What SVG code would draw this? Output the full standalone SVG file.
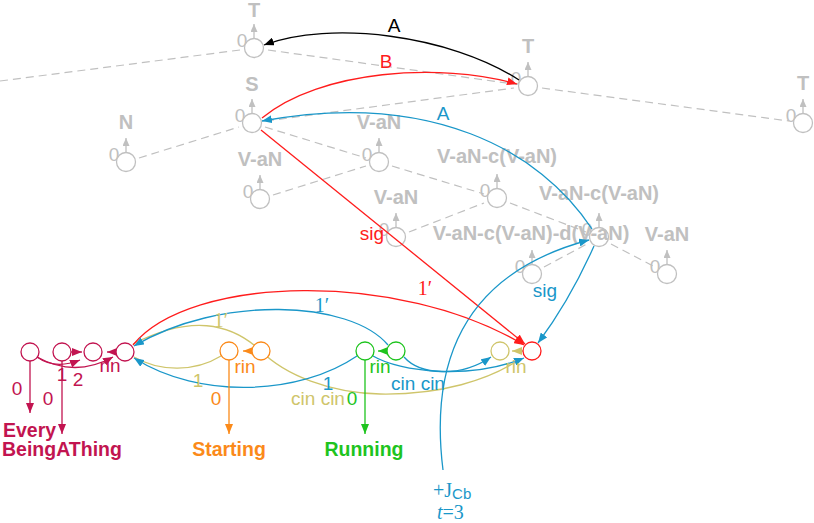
<svg xmlns="http://www.w3.org/2000/svg" width="814" height="523" viewBox="0 0 814 523">
<style>
.gl{font-family:"Liberation Sans",Arial,sans-serif;font-size:20px;font-weight:bold;fill:#c0c0c0;text-anchor:middle}
.g0{font-family:"Liberation Sans",Arial,sans-serif;font-size:19px;fill:#c0c0c0;text-anchor:middle}
.gc{fill:#fff;stroke:#c0c0c0;stroke-width:1.3}
.ga{stroke:#c0c0c0;stroke-width:1.3;fill:none}
.dash{stroke:#c0c0c0;stroke-width:1.2;stroke-dasharray:8,5;fill:none}
.e{fill:none;stroke-width:1.3}
.s{font-family:"Liberation Sans",Arial,sans-serif;font-size:19px;text-anchor:middle}
.b{font-family:"Liberation Sans",Arial,sans-serif;font-size:19.5px;font-weight:bold}
.r{font-family:"Liberation Serif","Times New Roman",serif;font-size:20px;text-anchor:middle}
.n{fill:#fff;stroke-width:1.3}
</style>
<defs>
<marker id="mg" viewBox="0 0 8 7" refX="8" refY="3.5" markerWidth="8" markerHeight="7" markerUnits="userSpaceOnUse" orient="auto"><path d="M0,0 L8,3.5 L0,7 z" fill="#c0c0c0"/></marker>
<marker id="mk" viewBox="0 0 10 8" refX="10" refY="4" markerWidth="10" markerHeight="8" markerUnits="userSpaceOnUse" orient="auto"><path d="M0,0 L10,4 L0,8 z" fill="#000"/></marker>
<marker id="mr" viewBox="0 0 10 8" refX="10" refY="4" markerWidth="10" markerHeight="8" markerUnits="userSpaceOnUse" orient="auto"><path d="M0,0 L10,4 L0,8 z" fill="#ff1c1c"/></marker>
<marker id="mb" viewBox="0 0 10 8" refX="10" refY="4" markerWidth="10" markerHeight="8" markerUnits="userSpaceOnUse" orient="auto"><path d="M0,0 L10,4 L0,8 z" fill="#1a97c9"/></marker>
<marker id="mc" viewBox="0 0 10 8" refX="10" refY="4" markerWidth="10" markerHeight="8" markerUnits="userSpaceOnUse" orient="auto"><path d="M0,0 L10,4 L0,8 z" fill="#c21450"/></marker>
<marker id="mo" viewBox="0 0 10 8" refX="10" refY="4" markerWidth="10" markerHeight="8" markerUnits="userSpaceOnUse" orient="auto"><path d="M0,0 L10,4 L0,8 z" fill="#fb8a1a"/></marker>
<marker id="mgr" viewBox="0 0 10 8" refX="10" refY="4" markerWidth="10" markerHeight="8" markerUnits="userSpaceOnUse" orient="auto"><path d="M0,0 L10,4 L0,8 z" fill="#1ec41e"/></marker>
<marker id="my" viewBox="0 0 10 8" refX="10" refY="4" markerWidth="10" markerHeight="8" markerUnits="userSpaceOnUse" orient="auto"><path d="M0,0 L10,4 L0,8 z" fill="#cfc56b"/></marker>
</defs>
<rect width="814" height="523" fill="#fff"/>

<!-- gray tree nodes -->
<g id="T1"><text class="g0" x="242" y="47">0</text><line class="ga" x1="254" y1="38" x2="254" y2="24" marker-end="url(#mg)"/><circle class="gc" cx="254" cy="48" r="9.5"/><text class="gl" x="254" y="17">T</text></g>
<g id="T2"><text class="g0" x="516" y="85">0</text><line class="ga" x1="528" y1="76" x2="528" y2="62" marker-end="url(#mg)"/><circle class="gc" cx="528" cy="86" r="9.5"/><text class="gl" x="528" y="53">T</text></g>
<g id="T3"><text class="g0" x="791" y="122">0</text><line class="ga" x1="803" y1="113" x2="803" y2="99" marker-end="url(#mg)"/><circle class="gc" cx="803" cy="123" r="9.5"/><text class="gl" x="803" y="90">T</text></g>
<g id="S"><text class="g0" x="240" y="122">0</text><line class="ga" x1="252" y1="113" x2="252" y2="99" marker-end="url(#mg)"/><circle class="gc" cx="252" cy="123" r="9.5"/><text class="gl" x="252" y="91">S</text></g>
<g id="N"><text class="g0" x="114" y="161">0</text><line class="ga" x1="126" y1="152" x2="126" y2="138" marker-end="url(#mg)"/><circle class="gc" cx="126" cy="162" r="9.5"/><text class="gl" x="126" y="129">N</text></g>
<g id="VaN1"><text class="g0" x="367" y="161">0</text><line class="ga" x1="379" y1="152" x2="379" y2="138" marker-end="url(#mg)"/><circle class="gc" cx="379" cy="162" r="9.5"/><text class="gl" x="379" y="129">V-aN</text></g>
<g id="VaN2"><text class="g0" x="248" y="198">0</text><line class="ga" x1="260" y1="189" x2="260" y2="175" marker-end="url(#mg)"/><circle class="gc" cx="260" cy="199" r="9.5"/><text class="gl" x="260" y="166">V-aN</text></g>
<g id="VaN3"><text class="g0" x="384" y="236">0</text><line class="ga" x1="396" y1="227" x2="396" y2="213" marker-end="url(#mg)"/><circle class="gc" cx="396" cy="237" r="9.5"/><text class="gl" x="396" y="204">V-aN</text></g>
<g id="VaNc1"><text class="g0" x="485" y="197">0</text><line class="ga" x1="497" y1="188" x2="497" y2="174" marker-end="url(#mg)"/><circle class="gc" cx="497" cy="198" r="9.5"/><text class="gl" x="497" y="163">V-aN-c(V-aN)</text></g>
<g id="VaNc2"><text class="g0" x="587" y="236">0</text><line class="ga" x1="599" y1="227" x2="599" y2="213" marker-end="url(#mg)"/><circle class="gc" cx="599" cy="237" r="9.5"/><text class="gl" x="599" y="200">V-aN-c(V-aN)</text></g>
<g id="VaNcd"><text class="g0" x="520" y="273">0</text><line class="ga" x1="532" y1="264" x2="532" y2="250" marker-end="url(#mg)"/><circle class="gc" cx="532" cy="274" r="9.5"/><text class="gl" x="531" y="240">V-aN-c(V-aN)-d(V-aN)</text></g>
<g id="VaN4"><text class="g0" x="655" y="273">0</text><line class="ga" x1="667" y1="264" x2="667" y2="250" marker-end="url(#mg)"/><circle class="gc" cx="667" cy="274" r="9.5"/><text class="gl" x="667" y="241">V-aN</text></g>

<!-- connectors -->
<g id="connectors">
<line class="dash" x1="0" y1="81" x2="240" y2="50"/>
<line class="dash" x1="268" y1="50" x2="514" y2="84"/>
<line class="dash" x1="266" y1="121" x2="514" y2="88"/>
<line class="dash" x1="542" y1="88" x2="789" y2="121"/>
<line class="dash" x1="139" y1="158" x2="239" y2="127"/>
<line class="dash" x1="265" y1="127" x2="366" y2="158"/>
<line class="dash" x1="273" y1="195" x2="366" y2="166"/>
<line class="dash" x1="392" y1="166" x2="484" y2="194"/>
<line class="dash" x1="409" y1="232" x2="484" y2="203"/>
<line class="dash" x1="510" y1="203" x2="586" y2="232"/>
<line class="dash" x1="544" y1="267" x2="587" y2="244"/>
<line class="dash" x1="611" y1="244" x2="655" y2="267"/>

<path class="e" stroke="#000" d="M519,80 C450,35 330,20 264,45" marker-end="url(#mk)"/>
<path class="e" stroke="#ff1c1c" d="M262,118 C320,70 440,62 517,84" marker-end="url(#mr)"/>
<path class="e" stroke="#1a97c9" d="M592,229 C540,150 430,90 262,121" marker-end="url(#mb)"/>
<path class="e" stroke="#ff1c1c" d="M261,130 L525,344" marker-end="url(#mr)"/>
<path class="e" stroke="#1a97c9" d="M594,246 Q570,300 538,343" marker-end="url(#mb)"/>
<path class="e" stroke="#1a97c9" d="M443,470 Q420,285 589,240" marker-end="url(#mb)"/>

<path class="e" stroke="#cfc56b" d="M134,357 C160,372 195,372 221,356"/>
<path class="e" stroke="#cfc56b" d="M133,344 C190,315 230,322 261,351 C285,375 330,393 380,394 C440,395 490,380 520,359"/>
<path class="e" stroke="#ff1c1c" d="M133,345 C190,275 400,270 524,345" marker-end="url(#mr)"/>
<path class="e" stroke="#1a97c9" d="M388,345 C350,300 220,295 134,346" marker-end="url(#mb)"/>
<path class="e" stroke="#1a97c9" d="M404,357 C420,375 460,378 491,357" marker-end="url(#mb)"/>
<path class="e" stroke="#1a97c9" d="M357,356 C300,395 200,400 134,358" marker-end="url(#mb)"/>
<path class="e" stroke="#1a97c9" d="M373,356 C400,372 470,380 524,358" marker-end="url(#mb)"/>

<path class="e" stroke="#c21450" d="M37,357 Q55,370 80,360" marker-end="url(#mc)"/>
<path class="e" stroke="#c21450" d="M37,357 Q75,378 113,357" marker-end="url(#mc)"/>
<path class="e" stroke="#c21450" d="M71,352 L82,352" marker-end="url(#mc)"/>
<path class="e" stroke="#c21450" d="M116,352 L107,352" marker-end="url(#mc)"/>
<path class="e" stroke="#c21450" d="M30,361 L30,413" marker-end="url(#mc)"/>
<path class="e" stroke="#c21450" d="M62,361 L62,434" marker-end="url(#mc)"/>
<path class="e" stroke="#fb8a1a" d="M252,351 L243,351" marker-end="url(#mo)"/>
<path class="e" stroke="#fb8a1a" d="M229,360 L229,434" marker-end="url(#mo)"/>
<path class="e" stroke="#1ec41e" d="M387,351 L378,351" marker-end="url(#mgr)"/>
<path class="e" stroke="#1ec41e" d="M365,360 L365,434" marker-end="url(#mgr)"/>
<path class="e" stroke="#cfc56b" d="M523,351 L512,351" marker-end="url(#my)"/>
</g>

<!-- bottom nodes -->
<g id="c1"><circle class="n" stroke="#c21450" cx="30" cy="352" r="9"/></g>
<g id="c2"><circle class="n" stroke="#c21450" cx="62" cy="352" r="9"/></g>
<g id="c3"><circle class="n" stroke="#c21450" cx="93" cy="352" r="9"/></g>
<g id="c4"><circle class="n" stroke="#c21450" cx="125" cy="352" r="9"/></g>
<g id="o1"><circle class="n" stroke="#fb8a1a" cx="229" cy="351" r="9"/></g>
<g id="o2"><circle class="n" stroke="#fb8a1a" cx="261" cy="351" r="9"/></g>
<g id="g1"><circle class="n" stroke="#1ec41e" cx="365" cy="351" r="9"/></g>
<g id="g2"><circle class="n" stroke="#1ec41e" cx="396" cy="351" r="9"/></g>
<g id="y1"><circle class="n" stroke="#cfc56b" cx="500" cy="351" r="9"/></g>
<g id="r1"><circle class="n" stroke="#ff1c1c" cx="532" cy="351" r="9"/></g>
<g id="every"><text class="b" x="3" y="437" fill="#c21450">Every</text></g>
<g id="being"><text class="b" x="2" y="456" fill="#c21450">BeingAThing</text></g>
<g id="starting"><text class="b" x="229" y="456" fill="#fb8a1a" text-anchor="middle">Starting</text></g>
<g id="running"><text class="b" x="364" y="456" fill="#1ec41e" text-anchor="middle">Running</text></g>

<!-- edge labels -->
<g id="labels">
<text class="s" x="394" y="32" fill="#000">A</text>
<text class="s" x="386" y="68" fill="#ff1c1c">B</text>
<text class="s" x="443" y="120" fill="#1a97c9">A</text>
<text class="s" x="372" y="240" fill="#ff1c1c">sig</text>
<text class="s" x="545" y="297" fill="#1a97c9">sig</text>
<text class="r" x="425" y="295" fill="#ff1c1c">1′</text>
<text class="r" x="322" y="312" fill="#1a97c9">1′</text>
<text class="r" x="221" y="327" fill="#cfc56b">1′</text>
<text class="s" x="198" y="387" fill="#cfc56b">1</text>
<text class="s" x="328" y="390" fill="#1a97c9">1</text>
<text class="s" x="318" y="405" fill="#cfc56b">cin cin</text>
<text class="s" x="418" y="390" fill="#1a97c9">cin cin</text>
<text class="s" x="110" y="372" fill="#c21450">rin</text>
<text class="s" x="245" y="373" fill="#fb8a1a">rin</text>
<text class="s" x="380" y="373" fill="#1ec41e">rin</text>
<text class="s" x="516" y="373" fill="#cfc56b">rin</text>
<text class="s" x="62" y="381" fill="#c21450">1</text>
<text class="s" x="78" y="386" fill="#c21450">2</text>
<text class="s" x="17" y="395" fill="#c21450">0</text>
<text class="s" x="48" y="405" fill="#c21450">0</text>
<text class="s" x="216" y="405" fill="#fb8a1a">0</text>
<text class="s" x="352" y="405" fill="#1ec41e">0</text>
<text x="433" y="497" fill="#1a97c9" font-family="'Liberation Serif','Times New Roman',serif" font-size="20">+J<tspan font-family="'Liberation Sans',Arial,sans-serif" font-size="15" dy="2">Cb</tspan></text>
<text x="437" y="519" fill="#1a97c9" font-family="'Liberation Serif','Times New Roman',serif" font-size="20"><tspan font-style="italic">t</tspan>=3</text>
</g>
</svg>
